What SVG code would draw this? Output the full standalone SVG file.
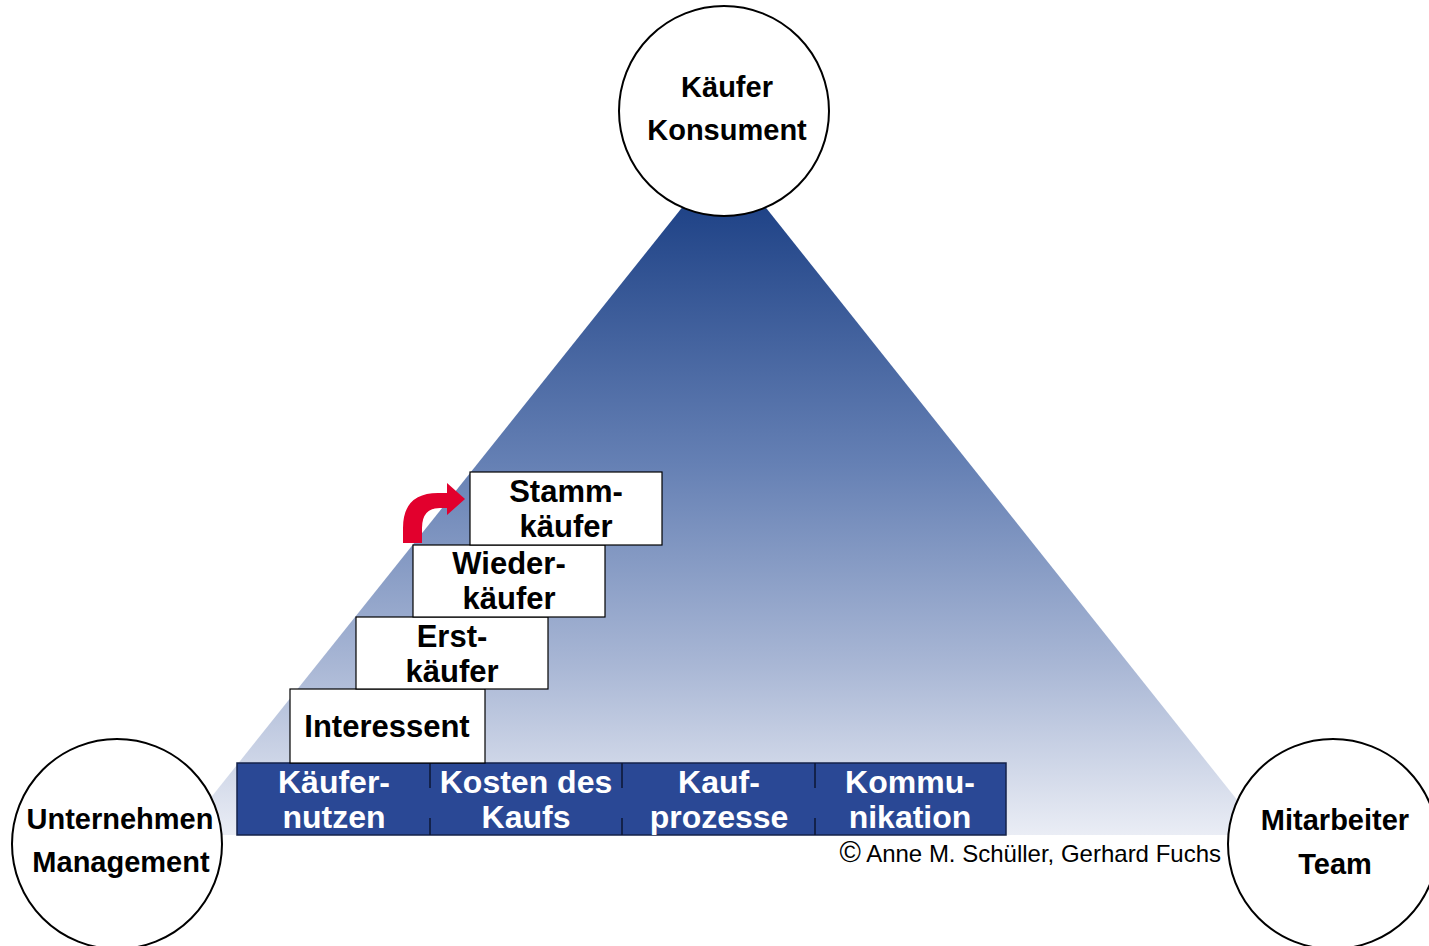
<svg xmlns="http://www.w3.org/2000/svg" width="1429" height="946" viewBox="0 0 1429 946">
  <defs>
    <linearGradient id="pyramidFill" gradientUnits="userSpaceOnUse" x1="0" y1="160" x2="0" y2="835">
      <stop offset="0" stop-color="#13387f"/>
      <stop offset="0.45" stop-color="#6580b4"/>
      <stop offset="0.75" stop-color="#a9b7d5"/>
      <stop offset="1" stop-color="#eaedf5"/>
    </linearGradient>
    <style>
      .circle { fill: #ffffff; stroke: #000000; stroke-width: 2; }
      .circle-label { font-family: "Liberation Sans", Arial, sans-serif; font-weight: bold; font-size: 29px; fill: #000000; text-anchor: middle; }
      .step { fill: #ffffff; stroke: #000000; stroke-width: 1.2; }
      .step-label { font-family: "Liberation Sans", Arial, sans-serif; font-weight: bold; font-size: 31px; fill: #000000; text-anchor: middle; }
      .bar { fill: #2a4895; stroke: #14224a; stroke-width: 1.5; }
      .bar-div { stroke: #0d1633; stroke-width: 1.5; }
      .bar-label { font-family: "Liberation Sans", Arial, sans-serif; font-weight: bold; font-size: 32px; fill: #ffffff; text-anchor: middle; }
      .credit { font-family: "Liberation Sans", Arial, sans-serif; font-size: 24px; fill: #000000; text-anchor: end; }
    </style>
  </defs>

  <rect width="1429" height="946" fill="#ffffff"/>

  <!-- pyramid background -->
  <polygon points="724,155 181,835 1265,835" fill="url(#pyramidFill)"/>

  <!-- base bar with four fields -->
  <g id="base">
    <rect class="bar" x="237" y="763" width="769" height="72"/>
    <line class="bar-div" x1="430" y1="763" x2="430" y2="788"/>
    <line class="bar-div" x1="430" y1="818" x2="430" y2="835"/>
    <line class="bar-div" x1="622" y1="763" x2="622" y2="788"/>
    <line class="bar-div" x1="622" y1="818" x2="622" y2="835"/>
    <line class="bar-div" x1="815" y1="763" x2="815" y2="788"/>
    <line class="bar-div" x1="815" y1="818" x2="815" y2="835"/>
  </g>
  <g id="field-kaeufernutzen">
    <text class="bar-label" x="334" y="793">Käufer-</text>
    <text class="bar-label" x="334" y="828">nutzen</text>
  </g>
  <g id="field-kosten">
    <text class="bar-label" x="526" y="793">Kosten des</text>
    <text class="bar-label" x="526" y="828">Kaufs</text>
  </g>
  <g id="field-kaufprozesse">
    <text class="bar-label" x="719" y="793">Kauf-</text>
    <text class="bar-label" x="719" y="828">prozesse</text>
  </g>
  <g id="field-kommunikation">
    <text class="bar-label" x="910" y="793">Kommu-</text>
    <text class="bar-label" x="910" y="828">nikation</text>
  </g>

  <!-- staircase of buyer stages -->
  <g id="step-interessent">
    <rect class="step" x="290" y="689" width="195" height="74"/>
    <text class="step-label" x="387" y="737">Interessent</text>
  </g>
  <g id="step-erstkaeufer">
    <rect class="step" x="356" y="617" width="192" height="72"/>
    <text class="step-label" x="452" y="647">Erst-</text>
    <text class="step-label" x="452" y="682">käufer</text>
  </g>
  <g id="step-wiederkaeufer">
    <rect class="step" x="413" y="545" width="192" height="72"/>
    <text class="step-label" x="509" y="574">Wieder-</text>
    <text class="step-label" x="509" y="609">käufer</text>
  </g>
  <g id="step-stammkaeufer">
    <rect class="step" x="470" y="472" width="192" height="73"/>
    <text class="step-label" x="566" y="502">Stamm-</text>
    <text class="step-label" x="566" y="537">käufer</text>
  </g>

  <!-- connectors -->
  <g id="connectors">
    <path d="M403,543 L403,528 Q403,493 438,493 L447,493 L447,483 L465,499 L447,515 L447,508 L440,508 Q422,508 422,528 L422,543 Z" fill="#e2002d"/>
  </g>

  <!-- corner circles -->
  <g id="node-kaeufer">
    <circle class="circle" cx="724" cy="111" r="105"/>
    <text class="circle-label" x="727" y="97">Käufer</text>
    <text class="circle-label" x="727" y="140">Konsument</text>
  </g>
  <g id="node-unternehmen">
    <circle class="circle" cx="117" cy="844" r="105"/>
    <text class="circle-label" x="120" y="829">Unternehmen</text>
    <text class="circle-label" x="121" y="872">Management</text>
  </g>
  <g id="node-mitarbeiter">
    <circle class="circle" cx="1333" cy="844" r="105"/>
    <text class="circle-label" x="1335" y="830">Mitarbeiter</text>
    <text class="circle-label" x="1335" y="874">Team</text>
  </g>

  <text class="credit" x="1221" y="862"><tspan font-size="29px">©</tspan> Anne M. Schüller, Gerhard Fuchs</text>
</svg>
